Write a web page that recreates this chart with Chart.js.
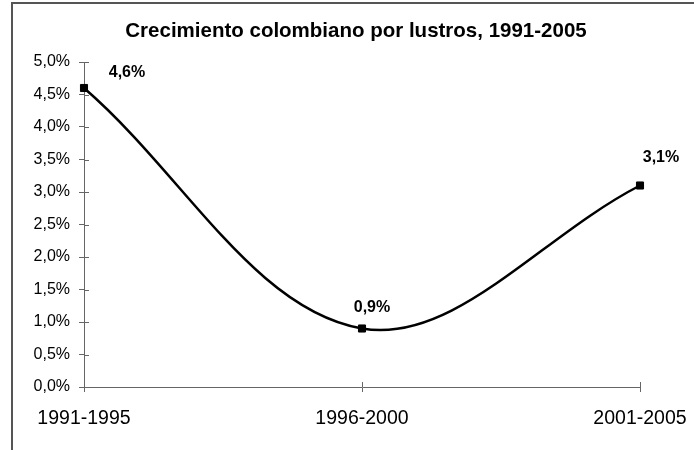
<!DOCTYPE html>
<html>
<head>
<meta charset="utf-8">
<script src="https://cdn.jsdelivr.net/npm/chart.js@4.4.1/dist/chart.umd.min.js"></script>
<style>
  html, body { margin: 0; padding: 0; background: #fff; }
  #wrap { position: relative; width: 694px; height: 450px; overflow: hidden; }
  #frame { position: absolute; left: 11px; top: 2px; width: 720px; height: 480px; border: 2px solid #555; box-sizing: border-box; }
  canvas { position: absolute; left: 0; top: 0; }
</style>
</head>
<body>
<div id="wrap">
  <div id="frame"></div>
  <canvas id="chart" width="694" height="450"></canvas>
</div>
<script>
// data
const titleText = 'Crecimiento colombiano por lustros, 1991-2005';
const periods = ['1991-1995', '1996-2000', '2001-2005'];
const growth = [4.6, 0.9, 3.1];
const yTicks = [0, 0.5, 1, 1.5, 2, 2.5, 3, 3.5, 4, 4.5, 5];

const fmt = v => v.toFixed(1).replace('.', ',') + '%';
const axisColor = '#666';
const FONT = '"Liberation Sans", Arial, sans-serif';

// title + ticks that cross the axes + value labels
const extras = {
  id: 'extras',
  afterDraw(chart) {
    const ctx = chart.ctx;
    const area = chart.chartArea;
    const xs = chart.scales.x, ys = chart.scales.y;
    ctx.save();
    ctx.fillStyle = '#000';
    ctx.textAlign = 'center';
    ctx.textBaseline = 'middle';
    ctx.font = 'bold 20.5px ' + FONT;
    ctx.fillText(titleText, 356, 31);

    ctx.strokeStyle = axisColor;
    ctx.lineWidth = 1;
    ctx.beginPath();
    ys.ticks.forEach((t, i) => {
      const y = Math.round(ys.getPixelForTick(i)) + 0.5;
      ctx.moveTo(area.left, y); ctx.lineTo(area.left + 5, y);
    });
    xs.ticks.forEach((t, i) => {
      const x = Math.round(xs.getPixelForTick(i)) + 0.5;
      ctx.moveTo(x, area.bottom); ctx.lineTo(x, area.bottom - 5);
    });
    ctx.stroke();

    const offs = [[43, -15], [10, -21], [21, -28]];
    ctx.font = 'bold 16px ' + FONT;
    chart.getDatasetMeta(0).data.forEach((pt, i) => {
      ctx.fillText(fmt(growth[i]), pt.x + offs[i][0], pt.y + offs[i][1]);
    });
    ctx.restore();
  }
};

new Chart(document.getElementById('chart'), {
  type: 'line',
  data: {
    labels: periods,
    datasets: [{
      data: growth,
      borderColor: '#000',
      borderWidth: 2.5,
      tension: 0.36,
      pointStyle: 'rect',
      pointRadius: 5,
      pointBorderWidth: 1,
      pointBackgroundColor: '#000',
      pointBorderColor: '#000',
      clip: false
    }]
  },
  options: {
    responsive: false,
    animation: false,
    events: [],
    layout: { padding: { top: 62, right: 54, left: 0, bottom: 0 } },
    plugins: { legend: { display: false }, tooltip: { enabled: false } },
    scales: {
      x: {
        offset: false,
        afterFit: s => { s.height = 63; s.paddingLeft = 0; s.paddingRight = 0; },
        grid: { drawOnChartArea: false, color: axisColor, tickLength: 5 },
        border: { color: axisColor, width: 1 },
        ticks: { color: '#000', padding: 15, maxRotation: 0, autoSkip: false,
                 font: { family: FONT, size: 19.5 } }
      },
      y: {
        min: 0, max: 5,
        afterFit: s => { s.width = 84; s.paddingTop = 0; s.paddingBottom = 0; },
        afterBuildTicks: s => { s.ticks = yTicks.map(v => ({ value: v })); },
        grid: { drawOnChartArea: false, color: axisColor, tickLength: 5 },
        border: { color: axisColor, width: 1 },
        ticks: { color: '#000', padding: 9, callback: v => fmt(v),
                 font: { family: FONT, size: 16 } }
      }
    }
  },
  plugins: [extras]
});
</script>
</body>
</html>
